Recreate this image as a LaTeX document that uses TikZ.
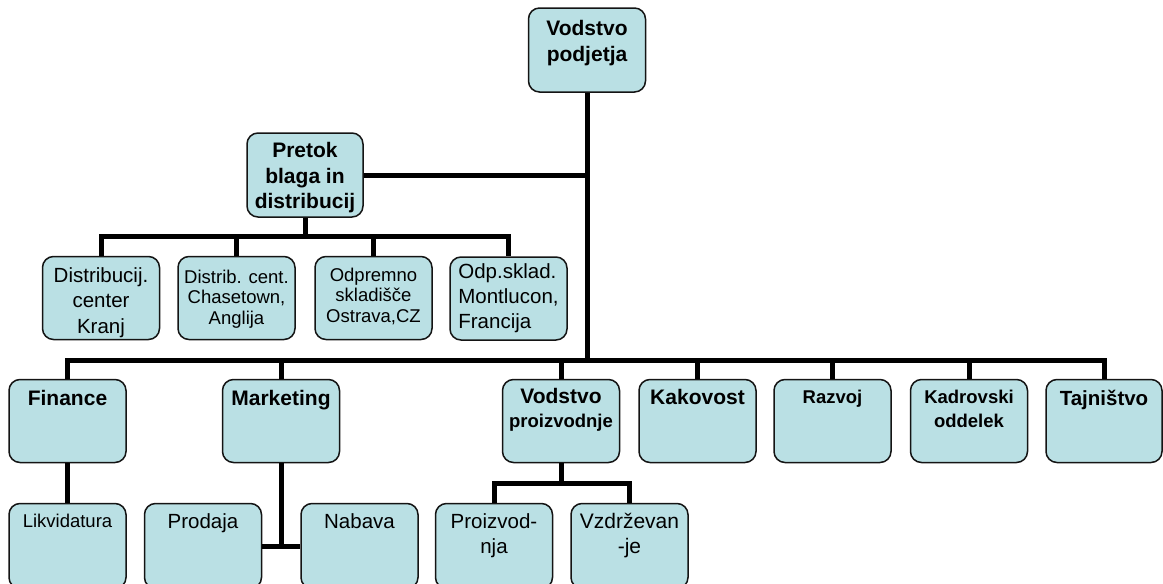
\documentclass[tikz,border=0pt]{standalone}
\usepackage{fontspec}
\setmainfont{Liberation Sans}
\usetikzlibrary{calc}
\definecolor{boxfill}{RGB}{186,224,228}
\definecolor{boxline}{RGB}{20,20,20}
\newcommand\Tstr{\rule{0pt}{0.95em}}
\newcommand\lab[7][center]{\node[lbl, align=#1, font={\fontsize{#4}{#5}\selectfont#6}] (t-#2) at ([yshift={-(#3+1.5-0.95*#4)*1pt}]#2.north) {\Tstr#7};}
\tikzset{
  orgbox/.style={draw=boxline, line width=1.5pt, fill=boxfill, rounded corners=11pt,
    minimum width=117pt, minimum height=83pt, inner sep=0pt},
  lowbox/.style={orgbox, minimum height=85pt},
  lbl/.style={anchor=north, inner sep=0pt, text=black},
  conn/.style={line width=5pt, black, line join=miter, line cap=butt}
}
\begin{document}
\begin{tikzpicture}[x=1pt,y=-1pt]
\useasboundingbox (0,0) rectangle (1163,584);
\clip (0,0) rectangle (1163,584);
% level 0
\node[orgbox, minimum height=84pt] (vp) at (587,50) {};
% pretok
\node[orgbox, minimum height=84pt, minimum width=116pt] (pr) at (305,175) {};
% distribution centres
\node[orgbox] (d1) at (101,298) {};
\node[orgbox] (d2) at (236.5,298) {};
\node[orgbox] (d3) at (373.5,298) {};
\node[orgbox] (d4) at (508.5,298.5) {};
% level 2
\node[orgbox] (fin) at (67.5,421) {};
\node[orgbox] (mkt) at (281,421) {};
\node[orgbox] (vpr) at (561,421) {};
\node[orgbox] (kak) at (697.5,421) {};
\node[orgbox] (raz) at (832.5,421) {};
\node[orgbox] (kad) at (969,421) {};
\node[orgbox, minimum width=116pt] (taj) at (1104,421) {};
% level 3
\node[lowbox] (lik) at (67.5,546) {};
\node[lowbox] (pro) at (203,546) {};
\node[lowbox] (nab) at (359.5,546) {};
\node[lowbox] (prz) at (494,546) {};
\node[lowbox] (vzd) at (629.5,546) {};
% connectors
\coordinate (barA) at (0,360);
\coordinate (barB) at (0,236);
\coordinate (barC) at (0,483);
\draw[conn] (vp.south) -- ([yshift=-2.5pt]vp.south |- barA);
\draw[conn] (pr.east) -- (pr.east -| vp.south);
\draw[conn] (fin.north) -- (fin.north |- barA) -- (taj.north |- barA) -- (taj.north);
\foreach \n in {mkt,vpr,kak,raz,kad} \draw[conn] (\n.north) -- (\n.north |- barA);
\draw[conn] (pr.south) -- (pr.south |- barB);
\draw[conn] (d1.north) -- (d1.north |- barB) -- (d4.north |- barB) -- (d4.north);
\foreach \n in {d2,d3} \draw[conn] (\n.north) -- (\n.north |- barB);
\draw[conn] (fin.south) -- (lik.north);
\draw[conn] (mkt.south) -- (mkt.south |- pro.east);
\draw[conn] (pro.east) -- (nab.west);
\draw[conn] (vpr.south) -- (vpr.south |- barC);
\draw[conn] (prz.north) -- (prz.north |- barC) -- (vzd.north |- barC) -- (vzd.north);
% labels
\lab{vp}{27}{21}{26}{\bfseries}{Vodstvo\\podjetja}
\lab{pr}{24}{21}{25.5}{\bfseries}{Pretok\\blaga in\\distribucij}
\lab{d1}{25}{20.5}{25.5}{}{Distribucij.\\center\\Kranj}
\lab{d2}{26}{18.5}{20.5}{}{Distrib. cent.\\Chasetown,\\Anglija}
\lab{d3}{24}{18.5}{20.5}{}{Odpremno\\skladišče\\Ostrava,CZ}
\lab[left]{d4}{21}{20.5}{25}{}{Odp.sklad.\\Montlucon,\\Francija}
\lab{fin}{25}{21}{25}{\bfseries}{Finance}
\lab{mkt}{25}{21}{25}{\bfseries}{Marketing}
\lab{vpr}{23}{21}{24}{\bfseries}{Vodstvo\\{\fontsize{18.5}{24}\selectfont proizvodnje}}
\lab{kak}{24}{21}{25}{\bfseries}{Kakovost}
\lab{raz}{23}{18.5}{24}{\bfseries}{Razvoj}
\lab{kad}{23}{18.5}{24}{\bfseries}{Kadrovski\\oddelek}
\lab{taj}{25}{20.5}{25}{\bfseries}{Tajništvo}
\lab{lik}{23}{18.5}{24}{}{Likvidatura}
\lab{pro}{24}{20.5}{25}{}{Prodaja}
\lab{nab}{24}{20.5}{25}{}{Nabava}
\lab{prz}{24}{20.5}{25}{}{Proizvod-\\nja}
\lab{vzd}{24}{21}{25}{}{Vzdrževan\\-je}
\end{tikzpicture}
\end{document}
